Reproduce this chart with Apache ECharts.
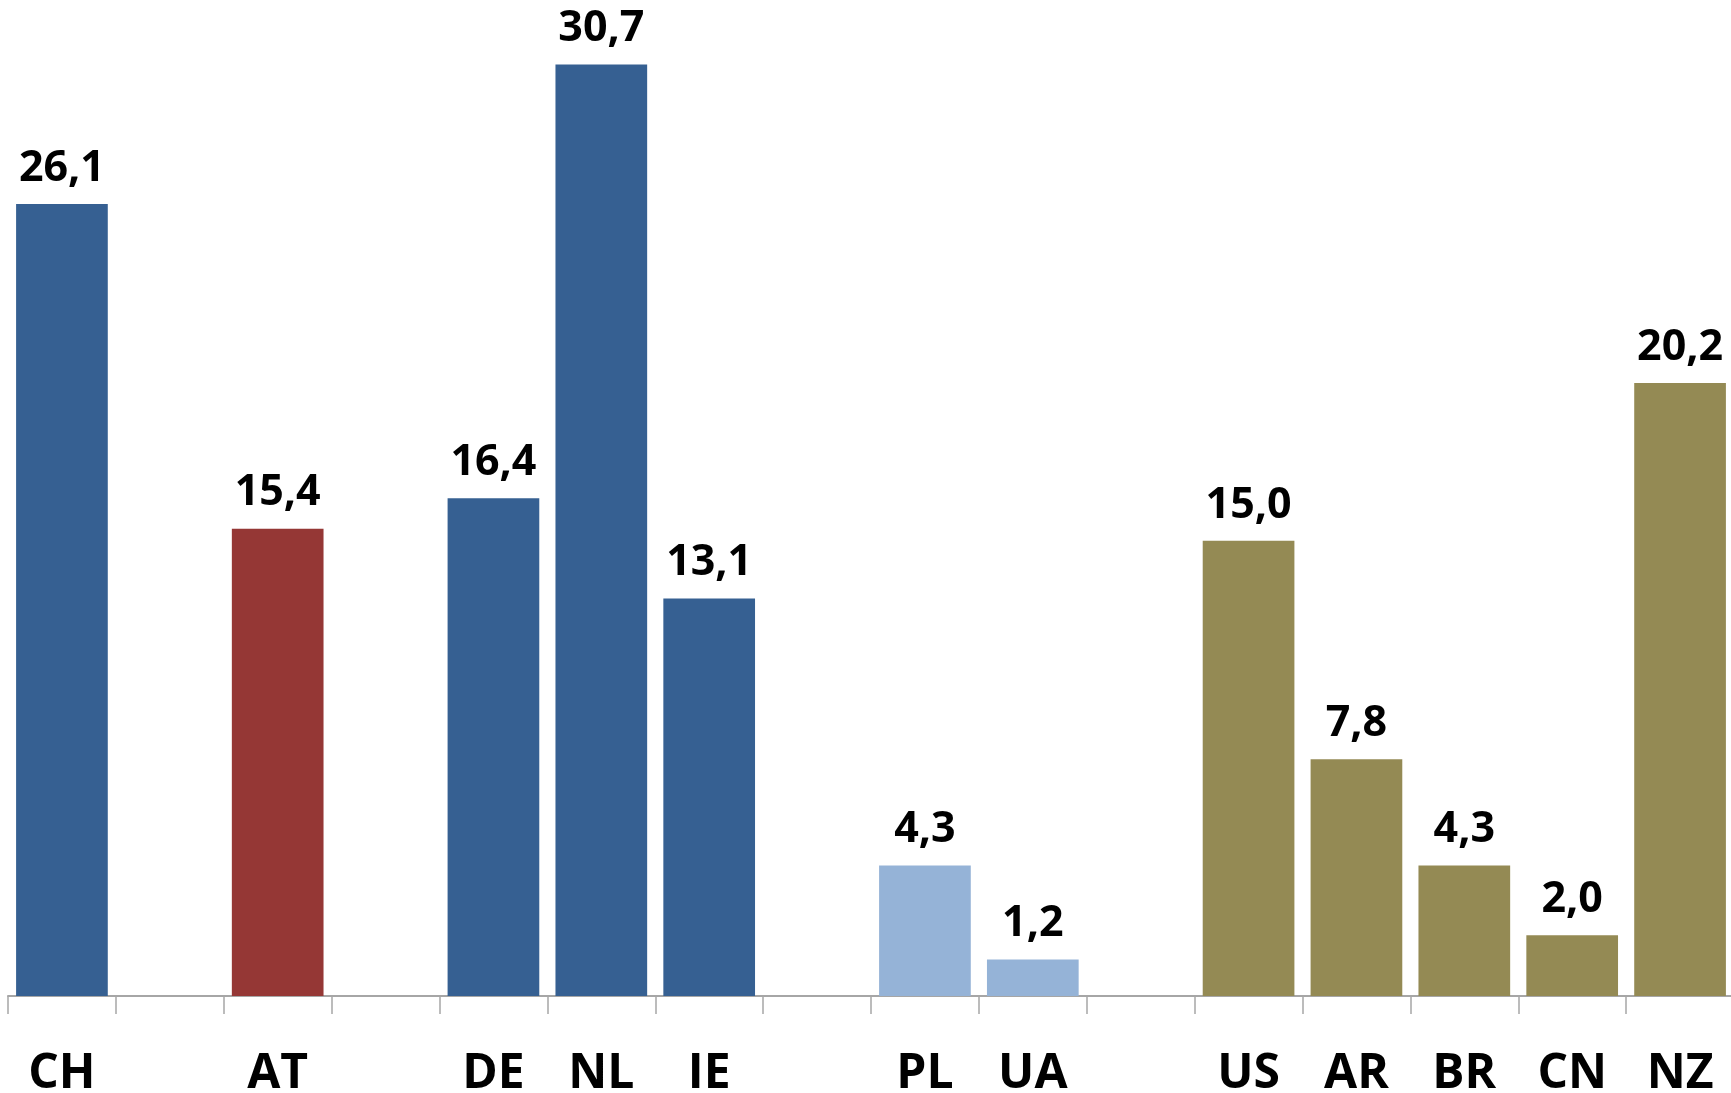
<!DOCTYPE html>
<html>
<head>
<meta charset="utf-8">
<script src="https://cdn.jsdelivr.net/npm/echarts@6/dist/echarts.min.js"></script>
<style>
  html, body { margin: 0; padding: 0; background: #ffffff; }
  #main { width: 1731px; height: 1093px; }
</style>
</head>
<body>
<div id="main"></div>
<script>
// categories (empty strings are the gaps between the groups)
var categories = ["CH", "", "AT", "", "DE", "NL", "IE", "", "PL", "UA", "", "US", "AR", "BR", "CN", "NZ"];
var values = [26.1, null, 15.4, null, 16.4, 30.7, 13.1, null, 4.3, 1.2, null, 15.0, 7.8, 4.3, 2.0, 20.2];
var groups = ["a", "", "b", "", "a", "a", "a", "", "c", "c", "", "d", "d", "d", "d", "d"];

var palette = { a: "#366092", b: "#953735", c: "#95b3d7", d: "#948a54" };

var chartDom = document.getElementById("main");
var myChart = echarts.init(chartDom);
var option;

var barData = values.map(function (v, i) {
  if (v === null) return "-";
  return { value: v, itemStyle: { color: palette[groups[i]] } };
});

option = {
  animation: false,
  grid: {
    left: 8,
    right: -3,
    top: 25,
    bottom: 97,
    containLabel: false,
    outerBoundsMode: "none",
  },
  xAxis: {
    type: "category",
    data: categories,
    axisLine: { show: true, lineStyle: { color: "#a6a6a6", width: 2 } },
    axisTick: { show: true, length: 18, lineStyle: { color: "#a6a6a6", width: 1.5 } },
    axisLabel: {
      margin: 54,
      fontFamily: "Open Sans",
      fontWeight: "bold",
      fontSize: 48,
      color: "#000000",
    },
  },
  yAxis: {
    type: "value",
    min: 0,
    max: 32,
    show: false,
    splitLine: { show: false },
  },
  series: [
    {
      type: "bar",
      data: barData,
      barCategoryGap: "15%",
      label: {
        show: true,
        position: "top",
        distance: 14,
        fontFamily: "Open Sans",
        fontWeight: "bold",
        fontSize: 43,
        color: "#000000",
        formatter: function (p) {
          return p.value.toFixed(1).replace(".", ",");
        },
      },
    },
  ],
};
myChart.setOption(option);
</script>
</body>
</html>
